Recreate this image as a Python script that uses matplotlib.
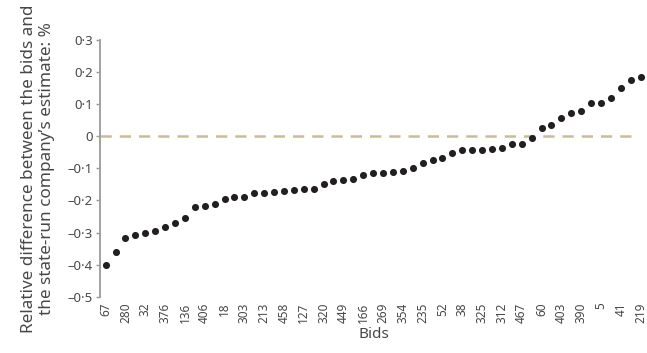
import numpy as np
import matplotlib
matplotlib.use("Agg")
import matplotlib.pyplot as plt

plt.rcParams.update({
    "font.family": ["Noto Sans", "DejaVu Sans"],
    "font.size": 10,
})

# ── data ──────────────────────────────────────────────────────────────────────
# bid identifiers, sorted by relative difference (only every second one is labelled)
bid_ids = [
    "67", "", "280", "", "32", "", "376", "", "136", "", "406", "", "18", "",
    "303", "", "213", "", "458", "", "127", "", "320", "", "449", "", "166", "",
    "269", "", "354", "", "235", "", "52", "", "38", "", "325", "", "312", "",
    "467", "", "60", "", "403", "", "390", "", "5", "", "41", "", "219",
]
rel_diff = [
    -0.401, -0.360, -0.317, -0.308, -0.302, -0.295, -0.283, -0.270, -0.256,
    -0.219, -0.216, -0.211, -0.195, -0.188, -0.189, -0.177, -0.176, -0.173,
    -0.171, -0.169, -0.164, -0.164, -0.150, -0.139, -0.137, -0.134, -0.120,
    -0.116, -0.115, -0.110, -0.109, -0.098, -0.082, -0.075, -0.068, -0.051,
    -0.044, -0.042, -0.042, -0.039, -0.038, -0.024, -0.024, -0.005, 0.027,
    0.036, 0.058, 0.073, 0.080, 0.105, 0.105, 0.120, 0.150, 0.174, 0.184,
]
y_ticks = [0.3, 0.2, 0.1, 0.0, -0.1, -0.2, -0.3, -0.4, -0.5]
y_tick_labels = ["0·3", "0·2", "0·1", "0", "–0·1", "–0·2", "–0·3", "–0·4", "–0·5"]

TEXT = "#474747"
AXIS = "#9a9a9a"
DASH = "#c8bd90"
DOT = "#231f20"

fig = plt.figure(figsize=(6.47, 3.53), dpi=100)
ax = fig.add_axes([0.1546, 0.1595, 1 - 0.1546, 0.8867 - 0.1595])

x = np.arange(len(rel_diff))
ax.axhline(0, xmin=0.0, xmax=0.985, color=DASH, lw=1.8, ls=(0, (4.5, 3.2)), zorder=1)
ax.scatter(x, rel_diff, s=26, color=DOT, zorder=3, linewidths=0)

ax.set_xlim(-0.57, 54.65)
ax.set_ylim(-0.5, 0.3)

ax.set_yticks(y_ticks)
ax.set_yticklabels(y_tick_labels, color=TEXT, fontsize=9.5)
ax.set_xticks(x)
ax.set_xticklabels(bid_ids, rotation=90, color=TEXT, fontsize=8.5)

ax.tick_params(axis="y", length=3, width=1, color=AXIS, pad=2)
ax.tick_params(axis="x", length=0, pad=4)

for side in ("top", "right", "bottom"):
    ax.spines[side].set_visible(False)
ax.spines["left"].set_color(AXIS)
ax.spines["left"].set_linewidth(1.3)

ax.set_xlabel("Bids", color=TEXT, fontsize=11, labelpad=3)
ax.set_ylabel("Relative difference between the bids and\n"
              "the state-run company’s estimate: %",
              color=TEXT, fontsize=12.3, linespacing=1.2, labelpad=9)

fig.savefig("out.png", dpi=100)
